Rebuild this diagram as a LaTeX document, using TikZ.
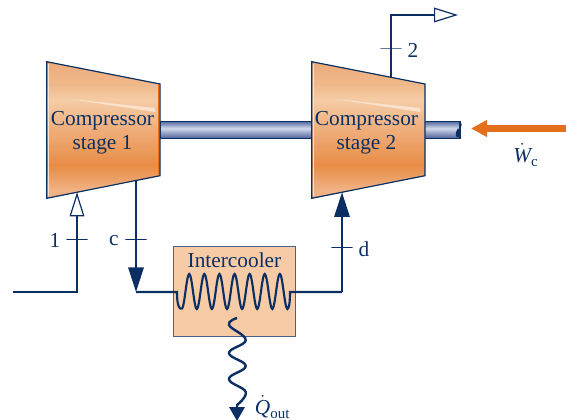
\documentclass[tikz,border=0pt]{standalone}
\usepackage{fontspec}
\setmainfont{Liberation Serif}
\usetikzlibrary{arrows.meta,positioning}
\definecolor{pipeblue}{HTML}{0B2F63}
\definecolor{workorange}{HTML}{E4701E}
\definecolor{coolerfill}{HTML}{F7CBA5}
\definecolor{gleam}{HTML}{FAE3CE}
\pgfdeclareverticalshading{bodyshade}{100bp}{
  rgb(0bp)=(0.94,0.70,0.52);
  rgb(25bp)=(0.94,0.70,0.52);
  rgb(28bp)=(0.94,0.70,0.52);
  rgb(37bp)=(0.91,0.55,0.27);
  rgb(50bp)=(0.94,0.68,0.48);
  rgb(61bp)=(0.96,0.80,0.65);
  rgb(67bp)=(0.94,0.72,0.54);
  rgb(75bp)=(0.93,0.67,0.48);
  rgb(100bp)=(0.93,0.67,0.48)}
\pgfdeclareverticalshading{shaftshade}{100bp}{
  rgb(0bp)=(0.30,0.38,0.60);
  rgb(25bp)=(0.30,0.38,0.60);
  rgb(55bp)=(0.82,0.85,0.92);
  rgb(75bp)=(0.35,0.43,0.64);
  rgb(100bp)=(0.35,0.43,0.64)}

\begin{document}
\begin{tikzpicture}[
  x=0.75pt, y=-0.75pt,
  label/.style={text=pipeblue,font=\fontsize{16}{18}\selectfont,inner sep=0pt,align=center},
  comp/.style={draw=pipeblue,line width=0.9pt,shading=bodyshade},
  shaft/.style={draw=pipeblue,line width=0.8pt,shading=shaftshade,inner sep=0pt,minimum width=225pt,minimum height=12.4pt},
  cooler/.style={draw=pipeblue!75,line width=0.9pt,fill=coolerfill,inner sep=0pt,minimum width=92pt,minimum height=68pt},
  pipe/.style={draw=pipeblue,line width=1.6pt},
  opentip/.style={-{Triangle[open,length=18pt,width=11pt,fill=white,line width=0.9pt]}},
  solidtip/.style={-{Triangle[length=18.5pt,width=11.5pt]}},
  heattip/.style={-{Triangle[length=10.5pt,width=11.5pt]}},
  tickmark/.style={draw=pipeblue,line width=0.7pt,inner sep=0pt,minimum width=16pt,minimum height=0pt}
]
  \useasboundingbox (0,0) rectangle (566,420);

  % Shaft behind the two stages
  \node[shaft] (shaft) at (310,130) {};
  \draw[draw=pipeblue,line width=0.8pt] (460,121.7) .. controls (464,126) and (456,130) .. (460,138.3);
  \fill[pipeblue] (458,128) .. controls (455,133) and (455,137) .. (458,137.5) .. controls (461,137) and (461,133) .. (458,128);

  % Compressor stages
  \draw[comp] (46.7,61.7) -- (160,84) -- (160,175.7) -- (46.7,198.3) -- cycle;
  \draw[comp] (311.7,61.7) -- (425,84) -- (425,175.7) -- (311.7,198.3) -- cycle;
  \draw[gleam,line width=0.8pt] (48.3,64) -- (48.3,196);
  \draw[gleam,line width=0.8pt] (313.3,64) -- (313.3,196);
  \draw[workorange,line width=0.9pt] (158.7,85.5) -- (158.7,174.5);
  \fill[gleam] (70,99) -- (155,108) -- (155,112) -- cycle;
  \fill[gleam] (335,99) -- (420,108) -- (420,112) -- cycle;
  \node[label] (name1) at (102.5,132.5) {Compressor\\stage 1};
  \node[label] (name2) at (366.5,132.5) {Compressor\\stage 2};

  % Intercooler
  \node[cooler] (cooler) at (234.5,291.5) {};
  \node[label] (coolname) at (234.5,260) {Intercooler};

  % Junction points of the pipes
  \coordinate (inlet)  at (13,292);
  \coordinate (bend1)  at (77,292);
  \coordinate (in1)    at (77,192.3);
  \coordinate (out1)   at (136,180.7);
  \coordinate (down1)  at (136,292);
  \coordinate (coilL)  at (177,292);
  \coordinate (coilR)  at (290,292);
  \coordinate (bend2)  at (342,292);
  \coordinate (in2)    at (342,192.3);
  \coordinate (out2)   at (391,77.3);
  \coordinate (bend3)  at (391,15);
  \coordinate (exit2)  at (458,15);
  \coordinate (heat0)  at (237,318);
  \coordinate (heat1)  at (237,421);
  \coordinate (workR)  at (566,128.5);
  \coordinate (workL)  at (471,128.5);

  % Pipes
  \draw[pipe,opentip] (inlet) -- (bend1) -- (in1);
  \draw[pipe,solidtip,pipeblue] (out1) -- (down1);
  \draw[pipe] (down1) -- (coilL) .. controls (177,305) and (179,309) .. (181.7,309)
    plot[smooth,domain=0:7,samples=85] ({181.7+15.1*\x},{291.5+17.5*cos(360*\x)})
    .. controls (288.5,309) and (290,305) .. (coilR) -- (bend2);
  \draw[pipe,solidtip,pipeblue] (bend2) -- (in2);
  \draw[pipe,line width=1.2pt,opentip] (out2) -- (bend3) -- (exit2);

  % Heat leaving the intercooler
  \draw[pipe,line width=1.8pt,heattip,pipeblue] plot[smooth,tension=0.7] coordinates {(heat0) (229,325) (245.7,340) (229,353) (245.7,366) (229,379) (245.7,392) (237,405)} -- (heat1);

  % Work input
  \draw[draw=workorange,line width=5.2pt,-{Triangle[length=12pt,width=12pt]},workorange] (workR) -- (workL);

  % State marks
  \node[tickmark] (tick1) at (77,239.5) {};
  \node[tickmark] (tickc) at (136,239.5) {};
  \node[tickmark] (tickd) at (342,247.5) {};
  \node[tickmark] (tick2) at (391,48) {};
  \node[label,left=4pt of tick1,yshift=-0.5pt] (state1) {1};
  \node[label,left=4.5pt of tickc,yshift=-1pt] (statec) {c};
  \node[label,right=4pt of tickd,yshift=-1pt] (stated) {d};
  \node[label,right=4pt of tick2,yshift=-1.5pt] (state2) {2};

  % Energy labels
  \node[label] (qout) at (272.5,407) {$\dot{\mathit{Q}}_{\mathrm{out}}$};
  \node[label] (wdot) at (526,155) {$\dot{\mathit{W}}_{\mathrm{c}}$};
\end{tikzpicture}
\end{document}
